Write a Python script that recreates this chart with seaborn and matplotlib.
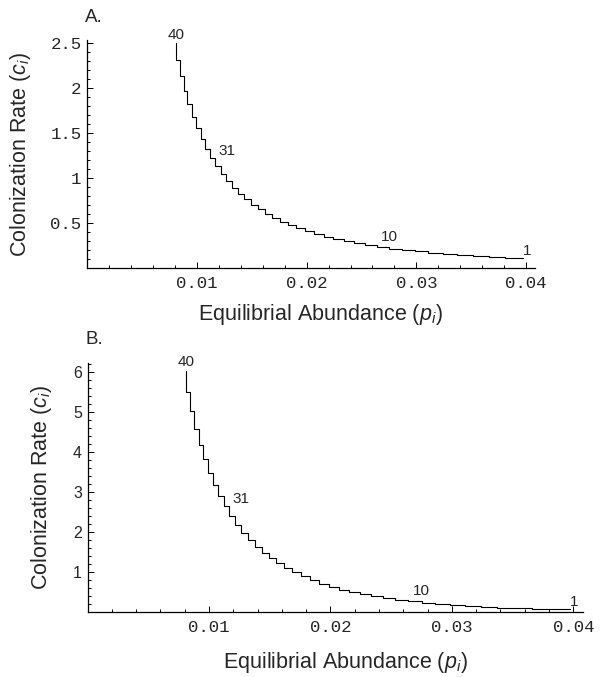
import matplotlib
matplotlib.use("Agg")
import matplotlib.pyplot as plt
from matplotlib.ticker import FixedLocator, FixedFormatter, MultipleLocator
import seaborn as sns
import pandas as pd

# ---- data ----
species = list(range(1, 41))
abundance = [0.03970, 0.03811, 0.03659, 0.03513, 0.03373, 0.03238, 0.03109, 0.02985,
             0.02865, 0.02751, 0.02641, 0.02536, 0.02434, 0.02337, 0.02244, 0.02154,
             0.02068, 0.01986, 0.01906, 0.01830, 0.01757, 0.01687, 0.01619, 0.01555,
             0.01493, 0.01433, 0.01376, 0.01321, 0.01268, 0.01218, 0.01169, 0.01122,
             0.01077, 0.01034, 0.00993, 0.00953, 0.00915, 0.00879, 0.00844, 0.00810]
col_rate_A = [0.115, 0.124, 0.134, 0.145, 0.157, 0.170, 0.184, 0.200, 0.216, 0.234,
              0.253, 0.274, 0.296, 0.321, 0.347, 0.375, 0.406, 0.440, 0.476, 0.515,
              0.557, 0.603, 0.653, 0.706, 0.764, 0.827, 0.895, 0.969, 1.048, 1.135,
              1.228, 1.329, 1.438, 1.556, 1.684, 1.823, 1.972, 2.135, 2.310, 2.500]
col_rate_B = [0.071, 0.083, 0.096, 0.111, 0.129, 0.150, 0.175, 0.203, 0.236, 0.274,
              0.309, 0.347, 0.391, 0.440, 0.495, 0.557, 0.626, 0.705, 0.793, 0.892,
              1.00, 1.11, 1.22, 1.34, 1.48, 1.63, 1.80, 1.98, 2.18, 2.40,
              2.64, 2.89, 3.17, 3.47, 3.81, 4.17, 4.58, 5.02, 5.50, 6.03]
labelled_species = [40, 31, 10, 1]

x_ticks = [0.01, 0.02, 0.03, 0.04]
x_tick_labels = ["0.01", "0.02", "0.03", "0.04"]
yA_ticks = [0.5, 1.0, 1.5, 2.0, 2.5]
yA_tick_labels = ["0.5", "1", "1.5", "2", "2.5"]
yB_ticks = [1, 2, 3, 4, 5, 6]
yB_tick_labels = ["1", "2", "3", "4", "5", "6"]

df = pd.DataFrame({"species": species, "abundance": abundance,
                   "cA": col_rate_A, "cB": col_rate_B})

sns.set_style("white")
plt.rcParams["font.family"] = ["Liberation Sans", "DejaVu Sans"]
plt.rcParams["mathtext.fontset"] = "custom"
plt.rcParams["mathtext.rm"] = "Liberation Sans"
plt.rcParams["mathtext.it"] = "Liberation Sans:italic"

fig = plt.figure(figsize=(6.01, 6.77), dpi=100)
W, H = 601, 677
axA = fig.add_axes([87 / W, (H - 268) / H, 448 / W, 228 / H])
axB = fig.add_axes([87.5 / W, (H - 612) / H, 495.5 / W, 249 / H])

mono = "Liberation Mono"

def style(ax, col, ylim, yticks, ylabels, yminor, ytickfont, label, xlab_y, ylab_x):
    sns.lineplot(data=df, x="abundance", y=col, drawstyle="steps-pre",
                 estimator=None, color="black", linewidth=0.8, ax=ax)
    ax.set_xlim(0, 0.0408)
    ax.set_ylim(*ylim)
    for s in ["top", "right"]:
        ax.spines[s].set_visible(False)
    for s in ["left", "bottom"]:
        ax.spines[s].set_color("black")
        ax.spines[s].set_linewidth(0.9)
    ax.xaxis.set_major_locator(FixedLocator(x_ticks))
    ax.xaxis.set_major_formatter(FixedFormatter(x_tick_labels))
    ax.xaxis.set_minor_locator(MultipleLocator(0.002))
    ax.yaxis.set_major_locator(FixedLocator(yticks))
    ax.yaxis.set_major_formatter(FixedFormatter(ylabels))
    ax.yaxis.set_minor_locator(MultipleLocator(yminor))
    ax.tick_params(which="both", direction="in", color="black", width=0.7,
                   bottom=True, left=True, top=False, right=False)
    ax.tick_params(which="major", length=4)
    ax.tick_params(which="minor", length=2)
    ax.tick_params(axis="x", which="major", pad=6)
    ax.tick_params(axis="y", which="major", pad=4)
    for t in ax.get_xticklabels():
        t.set_fontfamily(mono)
        t.set_fontsize(12.5)
    for t in ax.get_yticklabels():
        t.set_fontfamily(ytickfont[0])
        t.set_fontsize(ytickfont[1])
    ax.set_xlabel(r"Equilibrial Abundance ($p_i$)", fontsize=15.5)
    ax.set_ylabel(r"Colonization Rate ($c_i$)", fontsize=15.5)
    ax.xaxis.set_label_coords(0.52, xlab_y)
    ax.yaxis.set_label_coords(ylab_x, 0.5)
    ax.text(-0.004, 1.06, label, transform=ax.transAxes, fontsize=13.5,
            ha="left", va="bottom")
    for sp in labelled_species:
        row = df[df["species"] == sp].iloc[0]
        if sp == 40:
            off, ha, va = (0, 1), "center", "bottom"
        elif sp == 31:
            off, ha, va = (2, 0), "left", "bottom"
        elif sp == 10:
            off, ha, va = (0, 2), "center", "bottom"
        else:
            off, ha, va = (0, 0), "left", "bottom"
        ax.annotate(str(sp), (row["abundance"], row[col]), xytext=off,
                    textcoords="offset points", ha=ha, va=va, fontsize=11)

style(axA, "cA", (0, 2.536), yA_ticks, yA_tick_labels, 0.1, (mono, 12.5),
      "A.", -0.148, -0.12)
style(axB, "cB", (0, 6.22), yB_ticks, yB_tick_labels, 0.2, ("Liberation Sans", 11.5),
      "B.", -0.152, -0.068)

fig.savefig("out.png", dpi=100)
